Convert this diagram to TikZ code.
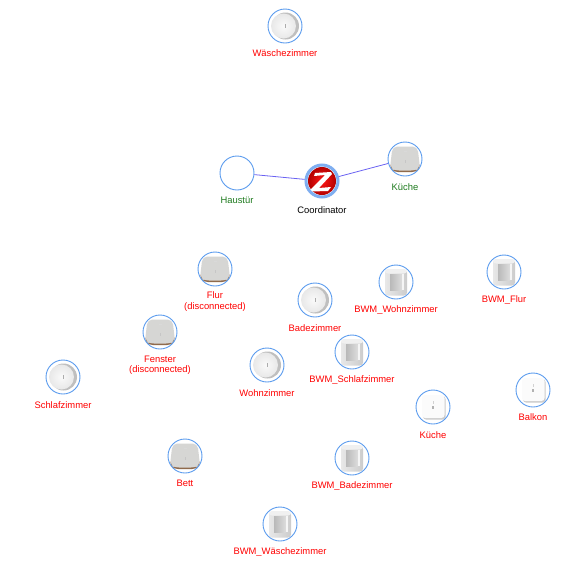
\documentclass[tikz,border=0pt]{standalone}
\usepackage{fontspec}
\setmainfont{Liberation Sans}
\usetikzlibrary{positioning}
\definecolor{ringblue}{HTML}{5A9BEE}
\definecolor{halo}{HTML}{7FAEF0}
\definecolor{linkblue}{HTML}{6A62F2}
\definecolor{okgreen}{HTML}{1E7A1E}
\definecolor{padbrown}{HTML}{8F6A4C}
\definecolor{padgray}{HTML}{D6D6D4}
\tikzset{
  device/.style={draw=ringblue, fill=white, circle, line width=0.9pt, inner sep=0pt, minimum size=34pt},
  devlabel/.style={text=red, inner sep=0pt, align=center, font=\fontsize{9.4}{10.5}\selectfont},
  padicon/.style={device, path picture={
    \begin{scope}[shift={(path picture bounding box.center)}]
    \fill[padbrown, rounded corners=4pt] (-14,2) -- (14,2) -- (15,10) -- (11,13) -- (-11,13) -- (-15,10) -- cycle;
    \fill[padgray, rounded corners=5pt] (-12.5,-12.5) -- (12.5,-12.5) -- (15,9) -- (11,11.5) -- (-11,11.5) -- (-15,9) -- cycle;
    \fill[gray!45] (-0.4,1) rectangle (0.4,4);
    \fill[gray!30] (-1.5,-8) rectangle (1.5,-7);
    \end{scope}}},
  roundicon/.style={device, path picture={
    \begin{scope}[shift={(path picture bounding box.center)}]
    \fill[gray!50] (0.5,0) circle (13.5);
    \shade[inner color=gray!4, outer color=gray!18] (-1.5,0) circle (12.5);
    \fill[gray!65] (-0.5,-2.5) rectangle (0.5,2);
    \end{scope}}},
  motionicon/.style={device, path picture={
    \begin{scope}[shift={(path picture bounding box.center)}]
    \shade[left color=gray!18, right color=gray!40, rounded corners=3pt] (-11,-12) rectangle (11,13.5);
    \shade[left color=gray!55, right color=gray!28] (-6,-8) rectangle (5.5,8);
    \fill[gray!8] (5.5,-8) rectangle (8,8);
    \fill[gray!12, rounded corners=3pt] (-11,-13) rectangle (11,-8.5);
    \end{scope}}},
  doOricon/.style={device, path picture={
    \begin{scope}[shift={(path picture bounding box.center)}]
    \fill[gray!40, rounded corners=3pt] (-10,-11) rectangle (12.5,12.5);
    \fill[gray!3, rounded corners=3pt] (-11,-12) rectangle (11.5,11);
    \fill[gray!60] (-0.7,-1) rectangle (0.7,1.5);
    \fill[gray!35] (-0.4,-6) rectangle (0.4,-3);
    \end{scope}}},
  zigbee/.style={draw=halo, fill=white, circle, line width=3pt, inner sep=0pt, minimum size=32pt, path picture={
    \begin{scope}[shift={(path picture bounding box.center)}]
    \shade[inner color=red!90!white, outer color=red!70!black] (0,0) circle (14);
    \fill[white] (-7,-8) -- (9,-9) -- (10,-7) -- (-3,7) -- (9,6) -- (6,10) -- (-11,10.5) -- (-11,8) -- (3,-6) -- (-8,-5) -- cycle;
    \end{scope}}}
}
\begin{document}
\begin{tikzpicture}[x=1pt, y=-1pt, node distance=27.5pt]
\useasboundingbox (0,0) rectangle (582,563);
\node[roundicon] (waesche) at (285,26) {};
\node[device] (haustuer) at (237,173) {};
\node[zigbee] (coord) at (322,181) {};
\node[padicon] (kueche) at (405,159) {};
\node[padicon] (flur) at (215,269) {};
\node[padicon] (fenster) at (160,332) {};
\node[roundicon] (bad) at (315,300) {};
\node[motionicon] (bwmwohn) at (396,282) {};
\node[motionicon] (bwmflur) at (504,272) {};
\node[motionicon] (bwmschlaf) at (352,352) {};
\node[roundicon] (wohn) at (267,365) {};
\node[roundicon] (schlaf) at (63,377) {};
\node[doOricon] (kueche2) at (433,407) {};
\node[doOricon] (balkon) at (533,390) {};
\node[padicon] (bett) at (185,456) {};
\node[motionicon] (bwmbad) at (352,458) {};
\node[motionicon] (bwmwaesche) at (280,524) {};
\path[draw=linkblue, line width=0.8pt] (haustuer) -- (coord)
	(coord) -- (kueche);
\node[devlabel][below of =waesche] (Lwaesche) {Wäschezimmer};
\node[devlabel, text=okgreen][below of =haustuer] (Lhaustuer) {Haustür};
\node[devlabel, text=black][below of =coord, node distance=29pt] (Lcoord) {Coordinator};
\node[devlabel, text=okgreen][below of =kueche, node distance=28pt] (Lkueche) {Küche};
\node[devlabel][below of =flur, node distance=32.5pt] (Lflur) {Flur\\(disconnected)};
\node[devlabel][below of =fenster, node distance=33pt] (Lfenster) {Fenster\\(disconnected)};
\node[devlabel][below of =bad, node distance=28pt] (Lbad) {Badezimmer};
\node[devlabel][below of =bwmwohn, node distance=28.5pt] (Lbwmwohn) {BWM\_Wohnzimmer};
\node[devlabel][below of =bwmflur, node distance=28.5pt] (Lbwmflur) {BWM\_Flur};
\node[devlabel][below of =bwmschlaf, node distance=28.5pt] (Lbwmschlaf) {BWM\_Schlafzimmer};
\node[devlabel][below of =wohn, node distance=28pt] (Lwohn) {Wohnzimmer};
\node[devlabel][below of =schlaf, node distance=28pt] (Lschlaf) {Schlafzimmer};
\node[devlabel][below of =kueche2, node distance=28pt] (Lkueche2) {Küche};
\node[devlabel][below of =balkon] (Lbalkon) {Balkon};
\node[devlabel][below of =bett] (Lbett) {Bett};
\node[devlabel][below of =bwmbad, node distance=28pt] (Lbwmbad) {BWM\_Badezimmer};
\node[devlabel][below of =bwmwaesche, node distance=28pt] (Lbwmwaesche) {BWM\_Wäschezimmer};
\end{tikzpicture}
\end{document}
